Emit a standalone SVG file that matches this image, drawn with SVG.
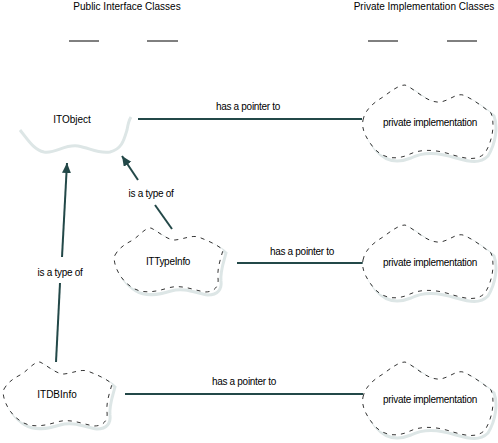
<svg xmlns="http://www.w3.org/2000/svg" xmlns:xlink="http://www.w3.org/1999/xlink" width="498" height="443" viewBox="0 0 498 443">
<style>
text{font-family:"Liberation Sans",Arial,sans-serif;font-size:10px;fill:#000;}
.c{text-anchor:middle;}
.lbl{letter-spacing:-0.3px;}
.conn{stroke:#234848;stroke-width:2;fill:none;}
.cloud{fill:#fff;stroke:#000;stroke-width:0.8;stroke-dasharray:4,5;}
.shadow{fill:none;stroke:#dde6e6;stroke-width:3;}
.ul{stroke:#000;stroke-width:1;}
</style>
<defs>
<marker id="ah" markerUnits="userSpaceOnUse" markerWidth="12" markerHeight="10" refX="10" refY="4.5" orient="auto">
<path d="M0,0 L10,4.5 L0,9 Z" fill="#234848"/>
</marker>
<path id="bigCloud" d="M0,35 C2,25 10,18 20,12 C28,6 36,0 42,0 C52,4 62,16 74,17 C84,18 92,8 100,10 C110,14 120,22 128,28 C132,38 130,55 122,68 C114,76 104,74 90,70 C78,66 60,62 45,70 C30,76 18,72 10,62 C4,54 -2,45 0,35 Z"/>
<path id="smallCloud" d="M2,27 C6,20 12,16 20,12 C28,6 32,0 38,0 C46,4 54,12 62,12 C72,11 80,6 88,10 C98,14 106,18 110,22 C108,30 104,40 105,50 C106,58 102,64 92,64 C80,62 68,56 55,60 C42,64 30,66 20,60 C10,54 4,44 2,36 C1,32 1,30 2,27 Z"/>
</defs>
<rect width="498" height="443" fill="#fff"/>
<g id="headers">
<text class="c" x="127" y="10">Public Interface Classes</text>
<text class="c" x="424" y="10">Private Implementation Classes</text>
<line class="ul" x1="69" y1="41" x2="99" y2="41"/>
<line class="ul" x1="147" y1="41" x2="178" y2="41"/>
<line class="ul" x1="368" y1="41" x2="398" y2="41"/>
<line class="ul" x1="447" y1="41" x2="477" y2="41"/>
</g>
<g id="connectors">
<line class="conn" x1="138" y1="119" x2="362" y2="119"/>
<text class="c lbl" x="248" y="110">has a pointer to</text>
<line class="conn" x1="237" y1="263" x2="363" y2="263"/>
<text class="c lbl" x="302" y="255">has a pointer to</text>
<line class="conn" x1="125" y1="394" x2="363" y2="394"/>
<text class="c lbl" x="244" y="385">has a pointer to</text>
<line class="conn" x1="172" y1="229" x2="155" y2="205"/>
<line class="conn" x1="138" y1="180" x2="122" y2="156" marker-end="url(#ah)"/>
<text class="c lbl" x="151" y="197">is a type of</text>
<line class="conn" x1="56" y1="362" x2="60" y2="283"/>
<line class="conn" x1="62" y1="257" x2="67" y2="163" marker-end="url(#ah)"/>
<text class="c lbl" x="60" y="276">is a type of</text>
</g>
<g id="ITObject">
<path class="shadow" d="M20,130 C28,140 34,150 44,152 C56,154 64,144 78,146 C90,148 98,154 110,152 C122,149 124,140 127,130 C128,124 129,120 131,117"/>
<text class="c" x="72" y="123">ITObject</text>
</g>
<g id="PrivateImpl1">
<use xlink:href="#bigCloud" class="shadow" transform="translate(366,88)"/>
<use xlink:href="#bigCloud" class="cloud" transform="translate(363,85)"/>
<text class="c lbl" x="430" y="126">private implementation</text>
</g>
<g id="PrivateImpl2">
<use xlink:href="#bigCloud" class="shadow" transform="translate(366,228)"/>
<use xlink:href="#bigCloud" class="cloud" transform="translate(363,225)"/>
<text class="c lbl" x="430" y="266">private implementation</text>
</g>
<g id="PrivateImpl3">
<use xlink:href="#bigCloud" class="shadow" transform="translate(366,365)"/>
<use xlink:href="#bigCloud" class="cloud" transform="translate(363,362)"/>
<text class="c lbl" x="430" y="403">private implementation</text>
</g>
<g id="ITTypeInfo">
<use xlink:href="#smallCloud" class="shadow" transform="translate(116,231)"/>
<use xlink:href="#smallCloud" class="cloud" transform="translate(113,228)"/>
<text class="c lbl" x="168" y="265">ITTypeInfo</text>
</g>
<g id="ITDBInfo">
<use xlink:href="#smallCloud" class="shadow" transform="translate(5,365)"/>
<use xlink:href="#smallCloud" class="cloud" transform="translate(2,362)"/>
<text class="c" x="57" y="398">ITDBInfo</text>
</g>
</svg>
